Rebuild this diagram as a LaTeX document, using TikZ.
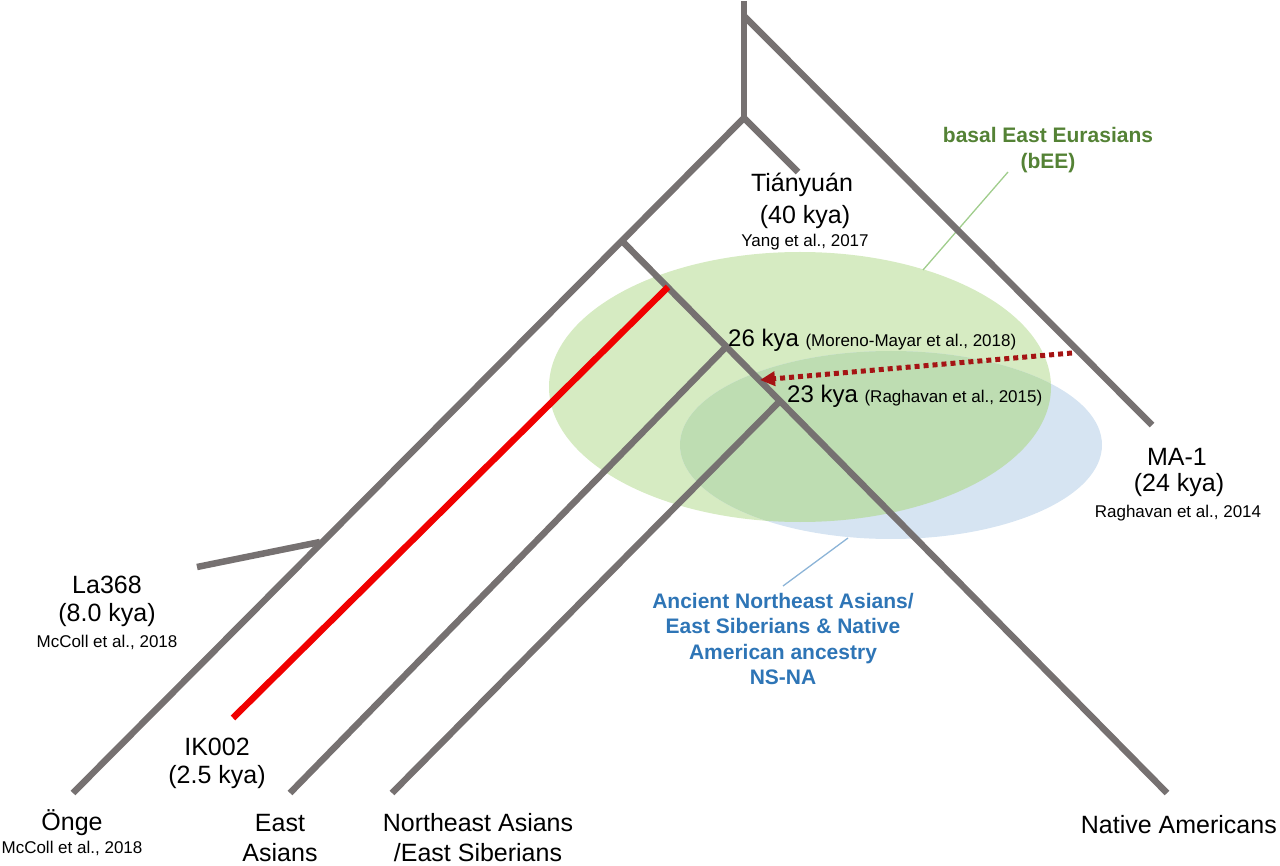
\documentclass[tikz,border=0pt]{standalone}
\usepackage{fontspec}
\setmainfont{Liberation Sans}
\usetikzlibrary{arrows.meta}
\definecolor{branchgray}{RGB}{118,113,113}
\definecolor{ikred}{RGB}{240,0,0}
\definecolor{arrowred}{RGB}{165,20,20}
\definecolor{beefill}{RGB}{214,235,194}
\definecolor{nsfill}{RGB}{214,228,242}
\definecolor{overfill}{RGB}{190,221,178}
\definecolor{beetext}{RGB}{84,130,53}
\definecolor{nstext}{RGB}{46,117,182}
\definecolor{beelead}{RGB}{160,205,140}
\definecolor{nslead}{RGB}{140,180,215}
\tikzset{
  branch/.style={draw=branchgray, line width=6.5pt},
  redbranch/.style={draw=ikred, line width=6.5pt},
  migr/.style={draw=arrowred, line width=5pt, dash pattern=on 5pt off 4pt,
    -{Triangle[length=15pt,width=14pt]}},
  lead/.style={line width=1.3pt},
  big/.style={font=\fontsize{25}{30}\selectfont, inner sep=0pt},
  mid/.style={font=\fontsize{24}{28}\selectfont, inner sep=0pt},
  small/.style={font=\fontsize{17}{20}\selectfont, inner sep=0pt},
  grplabel/.style={font=\bfseries\fontsize{21}{25.5}\selectfont, inner sep=0pt, align=center},
}
\begin{document}
\begin{tikzpicture}[x=1pt,y=-1pt]
\useasboundingbox (0,0) rectangle (1280,866);
% ellipses
\fill[beefill] (800,387) ellipse [x radius=251, y radius=135];
\fill[nsfill] (891,445) ellipse [x radius=211, y radius=94];
\begin{scope}
  \clip (891,445) ellipse [x radius=211, y radius=94];
  \fill[overfill] (800,387) ellipse [x radius=251, y radius=135];
\end{scope}
% coordinates
\coordinate (top) at (744,1);
\coordinate (R) at (744,16);
\coordinate (MA) at (1152,425);
\coordinate (A) at (744,118);
\coordinate (TY) at (798,172);
\coordinate (ON) at (73,793);
\coordinate (B) at (623,242);
\coordinate (L) at (320,542);
\coordinate (LA) at (197,567);
\coordinate (NA) at (1167,793);
\coordinate (RS) at (668,287);
\coordinate (RE) at (233,718);
\coordinate (C) at (726,347);
\coordinate (EA) at (290,793);
\coordinate (D) at (780,401);
\coordinate (NE) at (392,793);
\coordinate (arrs) at (1072,353);
\coordinate (arre) at (760,380);
\coordinate (bl1) at (1008,172);
\coordinate (bl2) at (923,270);
\coordinate (nl1) at (848,538);
\coordinate (nl2) at (783,586);
% leader lines
\draw[lead, beelead] (bl1) -- (bl2);
\draw[lead, nslead] (nl1) -- (nl2);
% branches
\draw[branch] (top) -- (A);
\draw[branch] (R) -- (MA);
\draw[branch] (A) -- (TY);
\draw[branch] (A) -- (ON);
\draw[branch] (L) -- (LA);
\draw[branch] (B) -- (NA);
\draw[branch] (C) -- (EA);
\draw[branch] (D) -- (NE);
\draw[redbranch] (RS) -- (RE);
\draw[migr] (arrs) -- (arre);
% labels
\node[big] (ty1) at (802,185) {Tiányuán};
\node[big] (ty2) at (805,217) {(40 kya)};
\node[small] (ty3) at (805,242) {Yang et al., 2017};
\node[big] (ma1) at (1177,457) {MA-1};
\node[big] (ma2) at (1179,485) {(24 kya)};
\node[small] (ma3) at (1178,513) {Raghavan et al., 2014};
\node[big] (la1) at (107,585) {La368};
\node[big] (la2) at (107,615) {(8.0 kya)};
\node[small] (la3) at (107,642) {McColl et al., 2018};
\node[big] (ik1) at (217,747) {IK002};
\node[big] (ik2) at (217,777) {(2.5 kya)};
\node[big] (on1) at (72,823) {Önge};
\node[small] (on2) at (72,848) {McColl et al., 2018};
\node[big, align=center, font=\fontsize{25}{30}\selectfont] (ea1) at (280,838) {East\\Asians};
\node[big, align=center, font=\fontsize{25}{30}\selectfont] (ne1) at (478,838) {Northeast Asians\\/East Siberians};
\node[big, anchor=east] (na1) at (1277,825) {Native Americans};
\node[mid, anchor=base west] (k26) at (728,347) {26 kya \fontsize{17}{20}\selectfont(Moreno-Mayar et al., 2018)};
\node[mid, anchor=base west] (k23) at (787,403) {23 kya \fontsize{17}{20}\selectfont(Raghavan et al., 2015)};
\node[grplabel, text=beetext] (bee) at (1048,150) {basal East Eurasians\\(bEE)};
\node[grplabel, text=nstext] (ns) at (783,639) {Ancient Northeast Asians/\\East Siberians \& Native\\American ancestry\\NS-NA};
\end{tikzpicture}
\end{document}
